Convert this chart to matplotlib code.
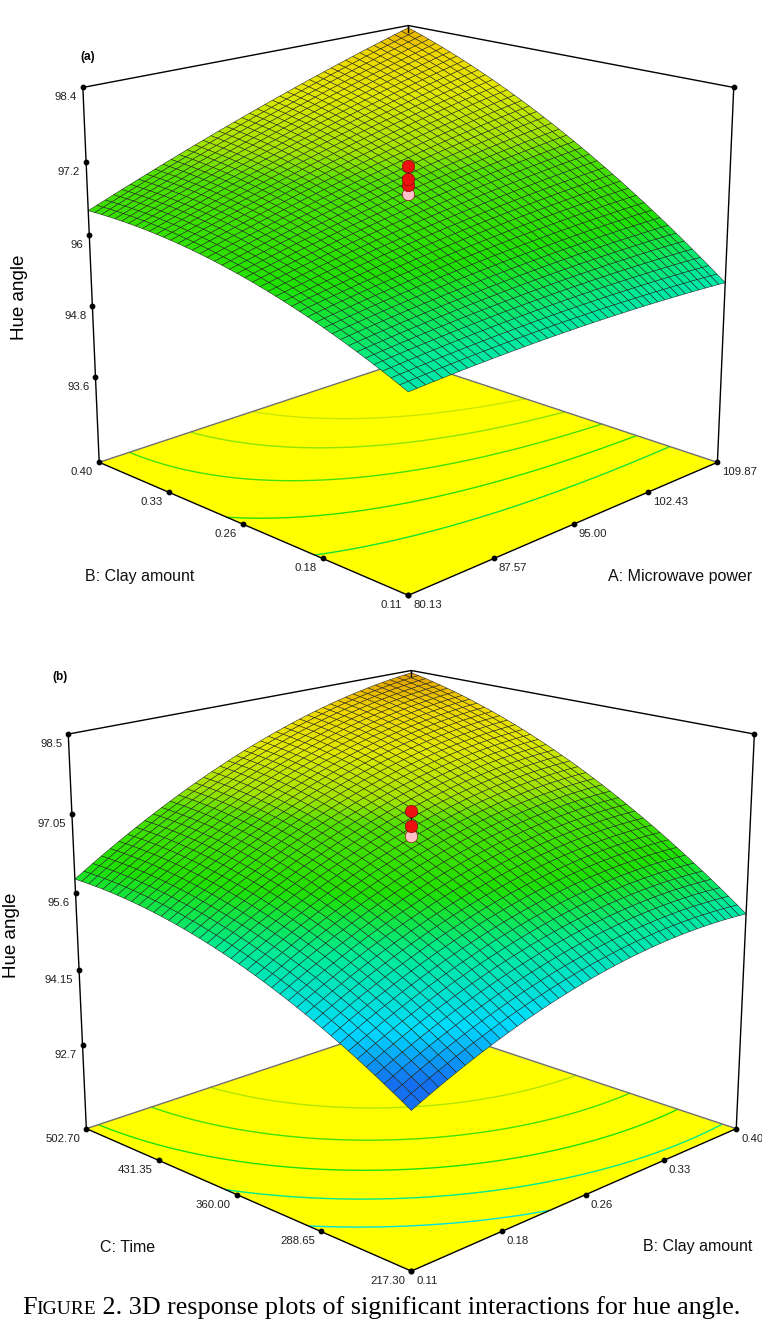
import numpy as np
import matplotlib
matplotlib.use("Agg")
import matplotlib.pyplot as plt
from matplotlib.colors import LinearSegmentedColormap, Normalize
from mpl_toolkits.mplot3d import proj3d

plt.rcParams['font.family'] = ['Liberation Sans Narrow', 'Liberation Sans', 'DejaVu Sans']

# ---------- panel (a): A = microwave power (x), B = clay amount (y)
a_x_range = [80.13, 109.87]
a_y_range = [0.11, 0.40]
a_z_range = [92.1, 98.4]
# quadratic response in coded units: b0, bx, by, bxy, bxx, byy
a_coef = [96.72, 0.49, 1.09, 0.49, -0.09, -0.34]
a_x_ticks = [80.13, 87.57, 95.00, 102.43, 109.87]
a_x_labels = ['80.13', '87.57', '95.00', '102.43', '109.87']
a_y_ticks = [0.11, 0.1825, 0.255, 0.3275, 0.40]
a_y_labels = ['0.11', '0.18', '0.26', '0.33', '0.40']
a_z_ticks = [93.6, 94.8, 96.0, 97.2, 98.4]
a_z_labels = ['93.6', '94.8', '96', '97.2', '98.4']
a_points = [97.14, 96.92, 96.82, 96.68]
a_levels = [95.8, 96.2, 96.6, 97.0, 97.4]

# ---------- panel (b): B = clay amount (x), C = time (y)
b_x_range = [0.11, 0.40]
b_y_range = [217.30, 502.70]
b_z_range = [91.05, 98.5]
b_coef = [96.80, 1.0, 1.325, 0.3, -0.47, -0.50]
b_x_ticks = [0.11, 0.1825, 0.255, 0.3275, 0.40]
b_x_labels = ['0.11', '0.18', '0.26', '0.33', '0.40']
b_y_ticks = [217.30, 288.65, 360.00, 431.35, 502.70]
b_y_labels = ['217.30', '288.65', '360.00', '431.35', '502.70']
b_z_ticks = [92.7, 94.15, 95.6, 97.05, 98.5]
b_z_labels = ['92.7', '94.15', '95.6', '97.05', '98.5']
b_points = [97.11, 96.84, 96.65]
b_levels = [94.8, 95.4, 96.0, 96.6, 97.2]

cmap = LinearSegmentedColormap.from_list('de', [
    (0.00, '#1470f0'), (0.12, '#00dcff'), (0.30, '#00eb96'),
    (0.45, '#20e000'), (0.62, '#50e000'), (0.68, '#a0e400'),
    (0.80, '#e0e800'), (0.90, '#f0d800'), (1.00, '#e09400')])
norm = Normalize(94.0, 98.5)

fig = plt.figure(figsize=(7.62, 13.37), dpi=100)
W, H = 762, 1337


def model(coef, x, y, xr, yr):
    u = (x - (xr[0] + xr[1]) / 2) / ((xr[1] - xr[0]) / 2)
    v = (y - (yr[0] + yr[1]) / 2) / ((yr[1] - yr[0]) / 2)
    b0, bx, by, bxy, bxx, byy = coef
    return b0 + bx*u + by*v + bxy*u*v + bxx*u*u + byy*v*v


def panel(cx, cy, zoom, xr, yr, zr, coef, xt, xl, yt, yl, zt, zl, pts, levels):
    size = 762
    ax = fig.add_axes([(cx - size / 2) / W, (H - cy - size / 2) / H, size / W, size / H],
                      projection='3d', computed_zorder=False)
    ax.set_proj_type('persp', focal_length=0.55)
    ax.view_init(elev=17.3, azim=-135)
    ax.set_xlim(xr)
    ax.set_ylim(yr)
    ax.set_zlim(zr)
    ax.set_box_aspect((1, 1, 0.875), zoom=zoom)
    ax.set_axis_off()
    ax.set_facecolor('none')

    gx = np.linspace(xr[0], xr[1], 43)
    gy = np.linspace(yr[0], yr[1], 43)
    X, Y = np.meshgrid(gx, gy)
    Z = model(coef, X, Y, xr, yr)
    z0, z1 = zr

    # floor with contours
    fx, fy = np.meshgrid(xr, yr)
    ax.plot_surface(fx, fy, np.full_like(fx, z0), color='#ffff00',
                    shade=False, linewidth=0, zorder=1)
    ax.contour(X, Y, Z, levels=levels, zdir='z', offset=z0, cmap=cmap,
               norm=norm, linewidths=1.0, zorder=2)
    grey = '#707070'
    ax.plot([xr[0], xr[1]], [yr[1], yr[1]], [z0, z0], color=grey, lw=1, zorder=2)
    ax.plot([xr[1], xr[1]], [yr[0], yr[1]], [z0, z0], color=grey, lw=1, zorder=2)
    ax.plot([xr[1], xr[1]], [yr[1], yr[1]], [z0, z1], color='k', lw=1, zorder=2)

    ax.plot_surface(X, Y, Z, facecolors=cmap(norm(Z)), edgecolor='#1a1a1a',
                    linewidth=0.35, shade=False, rstride=1, cstride=1, zorder=3)

    # centre points
    xc, yc = np.mean(xr), np.mean(yr)
    zc = model(coef, xc, yc, xr, yr)
    ax.plot([xc, xc], [yc, yc], [min(pts), max(pts)], color='k', lw=0.8, zorder=4)
    for p in sorted(pts):
        col = '#ee1010' if p > zc else '#ffc0c8'
        ax.scatter([xc], [yc], [p], s=80, color=col, edgecolor='#700000',
                   linewidth=0.4, depthshade=False, zorder=5)

    # box lines
    ax.plot([xr[0], xr[1]], [yr[0], yr[0]], [z0, z0], color='k', lw=1, zorder=6)
    ax.plot([xr[0], xr[0]], [yr[0], yr[1]], [z0, z0], color='k', lw=1, zorder=6)
    ax.plot([xr[0], xr[0]], [yr[1], yr[1]], [z0, z1], color='k', lw=1, zorder=6)
    ax.plot([xr[1], xr[1]], [yr[0], yr[0]], [z0, z1], color='k', lw=1, zorder=6)
    ax.plot([xr[0], xr[1], xr[1]], [yr[1], yr[1], yr[0]], [z1, z1, z1],
            color='k', lw=1, zorder=6)
    ax.plot([xr[1], xr[1]], [yr[1], yr[1]], [z1, z1 - 0.12], color='k', lw=1, zorder=6)

    M = ax.get_proj()
    fs = 8.2

    def mark(x, y, z, s, dx, dy, ha):
        ax.scatter([x], [y], [z], s=10, color='k', depthshade=False, zorder=7)
        px, py, _ = proj3d.proj_transform(x, y, z, M)
        ax.annotate(s, (px, py), xytext=(dx, dy), textcoords='offset pixels',
                    ha=ha, va='center', fontsize=fs, color='#202020')

    for v, s in zip(xt, xl):
        mark(v, yr[0], z0, s, 5, -10, 'left')
    for v, s in zip(yt, yl):
        mark(xr[0], v, z0, s, -6, -10, 'right')
    for v, s in zip(zt, zl):
        mark(xr[0], yr[1], v, s, -6, -10, 'right')
    ax.scatter([xr[1]], [yr[0]], [z1], s=10, color='k', depthshade=False, zorder=7)
    return ax


panel(398, 290, 0.95, a_x_range, a_y_range, a_z_range, a_coef, a_x_ticks,
      a_x_labels, a_y_ticks, a_y_labels, a_z_ticks, a_z_labels, a_points, a_levels)
panel(401, 947, 1.0, b_x_range, b_y_range, b_z_range, b_coef, b_x_ticks,
      b_x_labels, b_y_ticks, b_y_labels, b_z_ticks, b_z_labels, b_points, b_levels)

lab = dict(fontsize=11.5, color='#101010')
fig.text(85 / W, 1 - 577 / H, 'B: Clay amount', ha='left', va='center', **lab)
fig.text(752 / W, 1 - 577 / H, 'A: Microwave power', ha='right', va='center', **lab)
fig.text(100 / W, 1 - 1247 / H, 'C: Time', ha='left', va='center', **lab)
fig.text(752 / W, 1 - 1247 / H, 'B: Clay amount', ha='right', va='center', **lab)
fig.text(20 / W, 1 - 297 / H, 'Hue angle', rotation=90, ha='center', va='center', fontsize=13.5)
fig.text(12 / W, 1 - 935 / H, 'Hue angle', rotation=90, ha='center', va='center', fontsize=13.5)
fig.text(88 / W, 1 - 57 / H, '(a)', fontsize=8.5, fontweight='bold', ha='center', va='center')
fig.text(60 / W, 1 - 677 / H, '(b)', fontsize=8.5, fontweight='bold', ha='center', va='center')

# caption with small caps
serif = ['Liberation Serif', 'DejaVu Serif']
r = fig.canvas.get_renderer()
x0, yb = 22 / W, 1 - 1314 / H
parts = [('F', 18.8), ('IGURE', 14),
         (' 2. 3D response plots of significant interactions for hue angle.', 18.8)]
for s, sz in parts:
    t = fig.text(x0, yb, s, fontsize=sz, family=serif, ha='left', va='baseline')
    x0 += t.get_window_extent(r).width / W

fig.savefig('out.png', dpi=100)
